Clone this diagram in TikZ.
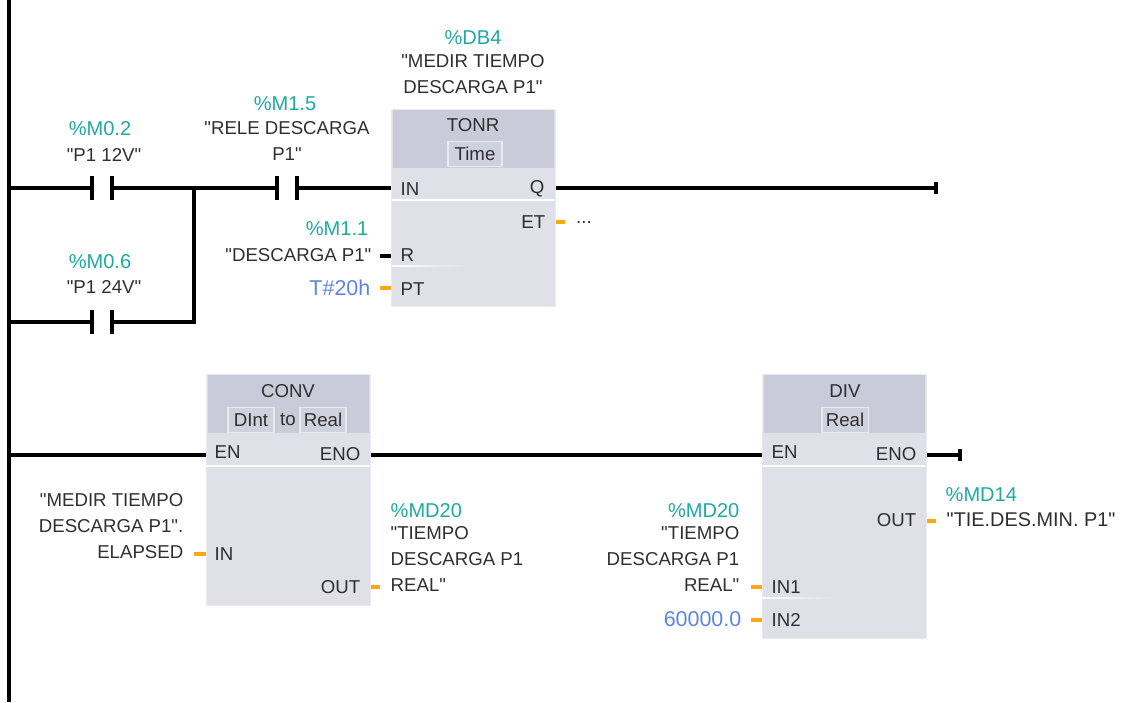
\documentclass[tikz,border=0pt]{standalone}
\usepackage{fontspec}
\usetikzlibrary{calc}
\setmainfont{Liberation Sans}[Ligatures=TeXOff]
\definecolor{boxgray}{HTML}{DFE0E8}
\definecolor{headgray}{HTML}{C9CBD9}
\definecolor{framegray}{HTML}{E9EAF0}
\definecolor{tagteal}{HTML}{1FA8A2}
\definecolor{valblue}{HTML}{5C86E0}
\definecolor{stuborange}{HTML}{FFA610}
\definecolor{inktext}{HTML}{2F2F2F}
\tikzset{
  wire/.style={line width=1.05pt,black},
  stub/.style={line width=1.05pt,stuborange},
  blockbody/.style={fill=boxgray,draw=framegray,line width=0.3pt,minimum width=1.63cm,inner sep=0pt},
  blockhead/.style={fill=headgray,minimum width=1.60cm,minimum height=0.58cm,inner sep=0pt,anchor=north},
  typebox/.style={fill=boxgray!30!headgray,draw=framegray,line width=0.3pt,inner sep=0pt,minimum height=0.25cm},
  txt/.style={inner sep=0pt,text=inktext,font=\fontsize{5.3}{7.4}\selectfont},
  tag/.style={inner sep=0pt,text=tagteal,font=\fontsize{5.7}{7.4}\selectfont},
  val/.style={inner sep=0pt,text=valblue,font=\fontsize{6.1}{7.4}\selectfont},
  rowline/.style={white,line width=0.4pt},
  rowfade/.style={left color=white,right color=boxgray}
}
\begin{document}
\begin{tikzpicture}[x=0.01cm,y=-0.01cm]
  \useasboundingbox (0,0) rectangle (1122,702);
  % blocks
  \node [blockbody,minimum height=1.96cm] (tonr) at (473.5,208) {};
  \node [blockbody,minimum height=2.30cm] (conv) at (288.5,490) {};
  \node [blockbody,minimum height=2.63cm] (div) at (844.5,506.5) {};
  \node [blockhead] (tonrhead) at (tonr.north) {};
  \node [blockhead] (convhead) at (conv.north) {};
  \node [blockhead] (divhead) at (div.north) {};
  \draw [rowline] (392,200) to (555,200);
  \fill [rowfade] (392,265.5) rectangle (470,266.5);
  \draw [rowline] (207,466) to (369,466);
  \draw [rowline] (763,466) to (925,466);
  \fill [rowfade] (763,597.5) rectangle (835,598.5);
  % block titles
  \node [txt] (tonrname) at (473,125) {TONR};
  \node [typebox,minimum width=0.54cm] (tonrtype) at (475,154) {};
  \node [txt] (tonrtime) at (tonrtype) {Time};
  \node [txt] (convname) at (288,391) {CONV};
  \node [typebox,minimum width=0.46cm] (dintbox) at (251,420) {};
  \node [typebox,minimum width=0.46cm] (realbox) at (323,420) {};
  \node [txt] (dint) at (dintbox) {DInt};
  \node [txt] (to) at (288,420) {to};
  \node [txt] (real) at (realbox) {Real};
  \node [txt] (divname) at (845,391) {DIV};
  \node [typebox,minimum width=0.46cm] (divtype) at (845,420) {};
  \node [txt] (divreal) at (divtype) {Real};
  % block pins
  \node [txt,anchor=mid west] (tonrin) at (400,186) {IN};
  \node [txt,anchor=mid west] (tonrr) at (400,252) {R};
  \node [txt,anchor=mid west] (tonrpt) at (400,286) {PT};
  \node [txt,anchor=mid east] (tonrq) at (545,184) {Q};
  \node [txt,anchor=mid east] (tonret) at (546,219) {ET};
  \node [txt,anchor=mid west] (conven) at (214,449) {EN};
  \node [txt,anchor=mid east] (conveno) at (361,451) {ENO};
  \node [txt,anchor=mid west] (convin) at (214,551) {IN};
  \node [txt,anchor=mid east] (convout) at (361,584) {OUT};
  \node [txt,anchor=mid west] (diven) at (771,449) {EN};
  \node [txt,anchor=mid east] (diveno) at (917,451) {ENO};
  \node [txt,anchor=mid east] (divout) at (917,517) {OUT};
  \node [txt,anchor=mid west] (divina) at (771,584) {IN1};
  \node [txt,anchor=mid west] (divinb) at (771,617) {IN2};
  % operands
  \node [tag] (dbtag) at (473,38) {\%DB4};
  \node [txt,align=center] (dbname) at (473,74) {"MEDIR TIEMPO\\DESCARGA P1"};
  \node [tag] (m15tag) at (285,104) {\%M1.5};
  \node [txt,align=center] (m15name) at (287,141) {"RELE DESCARGA\\P1"};
  \node [tag] (m02tag) at (100,129) {\%M0.2};
  \node [txt] (m02name) at (104,155) {"P1 12V"};
  \node [tag] (m06tag) at (100,262) {\%M0.6};
  \node [txt] (m06name) at (104,287) {"P1 24V"};
  \node [tag,anchor=mid east] (m11tag) at (369,226) {\%M1.1};
  \node [txt,anchor=mid east] (m11name) at (372,252) {"DESCARGA P1"};
  \node [val,anchor=mid east] (timeval) at (371,286) {T\#20h};
  \node [txt] (etdots) at (584,222) {...};
  \node [txt,anchor=east,align=right] (elapsed) at (184,526) {"MEDIR TIEMPO\\DESCARGA P1".\\ELAPSED};
  \node [tag,anchor=mid west] (md20a) at (390,508) {\%MD20};
  \node [txt,anchor=north west,align=left] (md20aname) at (390,526) {"TIEMPO\\DESCARGA P1\\REAL"};
  \node [tag,anchor=mid east] (md20b) at (740,508) {\%MD20};
  \node [txt,anchor=north east,align=right] (md20bname) at (740,526) {"TIEMPO\\DESCARGA P1\\REAL"};
  \node [val,anchor=mid east] (divval) at (742,617) {60000.0};
  \node [tag,anchor=mid west] (md14) at (945,492) {\%MD14};
  \node [txt,anchor=mid west,font=\fontsize{5.65}{7.4}\selectfont] (md14name) at (946,517) {"TIE.DES.MIN. P1"};
  % power rail and contacts
  \coordinate (railtop) at (9,0);
  \coordinate (railbot) at (9,702);
  \coordinate (rungone) at (9,188);
  \coordinate (rungtwo) at (9,322);
  \coordinate (rungthree) at (9,455);
  \coordinate (m02l) at (92,188);
  \coordinate (m02r) at (112,188);
  \coordinate (m06l) at (92,322);
  \coordinate (m06r) at (112,322);
  \coordinate (m15l) at (277,188);
  \coordinate (m15r) at (297,188);
  \coordinate (joint) at (194,188);
  \coordinate (jointlow) at (194,322);
  \coordinate (qend) at (936,188);
  \coordinate (enoend) at (960,455);
  \draw [wire] (railtop) to (railbot);
  \draw [wire] (rungone) to (m02l);
  \draw [wire] (m02r) to (m15l);
  \draw [wire] (m15r) to (tonr.west |- m15r);
  \draw [wire] (rungtwo) to (m06l);
  \draw [wire] (m06r) to (jointlow) to (joint);
  \draw [wire] ($(m02l)+(0,-12)$) to ($(m02l)+(0,12)$);
  \draw [wire] ($(m02r)+(0,-12)$) to ($(m02r)+(0,12)$);
  \draw [wire] ($(m06l)+(0,-12)$) to ($(m06l)+(0,12)$);
  \draw [wire] ($(m06r)+(0,-12)$) to ($(m06r)+(0,12)$);
  \draw [wire] ($(m15l)+(0,-12)$) to ($(m15l)+(0,12)$);
  \draw [wire] ($(m15r)+(0,-12)$) to ($(m15r)+(0,12)$);
  \draw [wire] (tonr.east |- qend) to (qend);
  \draw [wire] ($(qend)+(0,-6)$) to ($(qend)+(0,6)$);
  \draw [wire] (rungthree) to (conv.west |- rungthree);
  \draw [wire] (conv.east |- rungthree) to (div.west |- rungthree);
  \draw [wire] (div.east |- enoend) to (enoend);
  \draw [wire] ($(enoend)+(0,-6)$) to ($(enoend)+(0,6)$);
  % short pin stubs
  \draw [wire] (380,256) to (tonr.west |- 0,256);
  \draw [stub] (380,288) to (tonr.west |- 0,288);
  \draw [stub] (tonr.east |- 0,222) to (565,222);
  \draw [stub] (194,554) to (conv.west |- 0,554);
  \draw [stub] (conv.east |- 0,587) to (380,587);
  \draw [stub] (751,587) to (div.west |- 0,587);
  \draw [stub] (751,620) to (div.west |- 0,620);
  \draw [stub] (div.east |- 0,521) to (936,521);
\end{tikzpicture}
\end{document}
